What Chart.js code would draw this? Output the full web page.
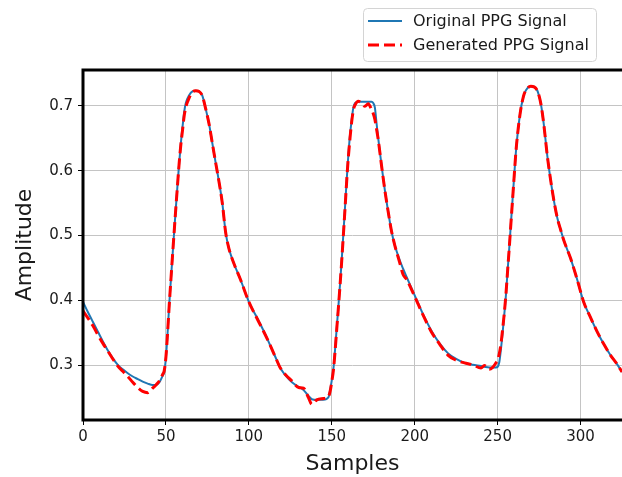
<!DOCTYPE html>
<html>
<head>
<meta charset="utf-8">
<script src="https://cdn.jsdelivr.net/npm/chart.js@4.4.1/dist/chart.umd.min.js"></script>
<style>
  html, body { margin: 0; padding: 0; background: #fff; }
  #wrap { width: 622px; height: 477px; }
</style>
</head>
<body>
<div id="wrap"><canvas id="myChart" width="622" height="477"></canvas></div>
<script>
// sample positions (x) and amplitudes
const samples = [
  0, 3, 6, 9, 12, 15, 18, 21, 24, 27, 30, 33, 36, 39, 42, 44, 46, 48,
  49, 50, 51, 52, 53, 54, 55, 56, 57, 58, 59, 60, 61, 62, 64, 66, 68, 70, 72,
  74, 76, 78, 80, 82, 84, 86, 88, 91, 95, 100, 104, 108, 112, 116, 119, 122, 126, 130, 133, 136, 138, 141, 145, 148,
  149, 150, 151, 152, 153, 154, 155, 156, 157, 158, 159, 160, 161, 162, 163, 164, 166, 168, 170, 172, 174, 175, 176,
  177, 178, 180, 182, 184, 186, 188, 191, 193, 195, 200, 205, 210, 215, 220, 225, 230, 235, 240, 242, 245, 247, 249,
  250, 251, 252, 253, 254, 255, 256, 257, 258, 259, 260, 261, 262, 263, 264, 265, 266, 268, 270, 272, 274, 275, 276, 277, 278,
  280, 282, 284, 286, 288, 290, 294, 298, 302, 306, 310, 314, 318, 322, 325
];

const originalPPG = [
  0.398, 0.382, 0.367, 0.352, 0.337, 0.323, 0.311, 0.301, 0.294, 0.288, 0.283, 0.279, 0.275, 0.272, 0.270, 0.270, 0.274, 0.284,
  0.290, 0.312, 0.350, 0.394, 0.432, 0.470, 0.507, 0.543, 0.578, 0.612, 0.642, 0.667, 0.690, 0.704, 0.716, 0.722, 0.723, 0.722, 0.715,
  0.695, 0.672, 0.642, 0.612, 0.583, 0.550, 0.505, 0.480, 0.457, 0.432, 0.398, 0.378, 0.358, 0.336, 0.313, 0.296, 0.285, 0.274, 0.267, 0.262, 0.253, 0.248, 0.247, 0.247, 0.251,
  0.262, 0.277, 0.295, 0.325, 0.358, 0.391, 0.426, 0.463, 0.503, 0.544, 0.586, 0.624, 0.655, 0.678, 0.697, 0.704, 0.706, 0.706, 0.706, 0.706, 0.706, 0.704, 0.697,
  0.673, 0.650, 0.608, 0.570, 0.537, 0.507, 0.485, 0.462, 0.449, 0.437, 0.408, 0.379, 0.354, 0.334, 0.319, 0.310, 0.304, 0.301, 0.299, 0.298, 0.297, 0.297, 0.297,
  0.298, 0.305, 0.325, 0.350, 0.378, 0.408, 0.445, 0.480, 0.518, 0.555, 0.592, 0.628, 0.655, 0.677, 0.695, 0.708, 0.718, 0.727, 0.730, 0.729, 0.723, 0.715, 0.704, 0.688, 0.668,
  0.622, 0.585, 0.553, 0.527, 0.509, 0.492, 0.465, 0.432, 0.397, 0.374, 0.352, 0.333, 0.316, 0.302, 0.290
];

const generatedPPG = [
  0.384, 0.373, 0.361, 0.347, 0.334, 0.322, 0.310, 0.299, 0.291, 0.283, 0.274, 0.266, 0.260, 0.258, 0.265, 0.270, 0.276, 0.286,
  0.292, 0.313, 0.350, 0.393, 0.432, 0.470, 0.507, 0.543, 0.578, 0.612, 0.640, 0.662, 0.684, 0.698, 0.712, 0.721, 0.723, 0.722, 0.715,
  0.695, 0.672, 0.642, 0.612, 0.583, 0.550, 0.505, 0.480, 0.457, 0.432, 0.398, 0.377, 0.357, 0.336, 0.313, 0.296, 0.286, 0.276, 0.266, 0.265, 0.250, 0.240, 0.247, 0.249, 0.252,
  0.260, 0.275, 0.293, 0.322, 0.356, 0.389, 0.424, 0.461, 0.501, 0.542, 0.584, 0.621, 0.650, 0.675, 0.693, 0.701, 0.707, 0.704, 0.699, 0.703, 0.694, 0.688, 0.679,
  0.664, 0.648, 0.608, 0.570, 0.537, 0.507, 0.485, 0.458, 0.440, 0.433, 0.406, 0.378, 0.352, 0.333, 0.316, 0.308, 0.304, 0.301, 0.296, 0.300, 0.294, 0.297, 0.304,
  0.308, 0.318, 0.333, 0.355, 0.380, 0.409, 0.445, 0.480, 0.518, 0.555, 0.592, 0.628, 0.655, 0.677, 0.695, 0.708, 0.718, 0.727, 0.730, 0.729, 0.723, 0.715, 0.704, 0.688, 0.668,
  0.622, 0.585, 0.553, 0.527, 0.509, 0.492, 0.465, 0.432, 0.397, 0.374, 0.352, 0.333, 0.316, 0.302, 0.290
];

const xTicks = [0, 50, 100, 150, 200, 250, 300];
const yTicks = [0.3, 0.4, 0.5, 0.6, 0.7];

const FONT = "'DejaVu Sans', 'Liberation Sans', sans-serif";
const textColor = '#1a1a1a';

const toPoints = (ys) => ys.map((y, i) => ({ x: samples[i], y: y }));

// black frame on top / left / bottom (right side is cut off in the reference)
const frame = {
  id: 'frame',
  afterDatasetsDraw(chart) {
    const { left, top, right, bottom } = chart.chartArea;
    const c = chart.ctx;
    c.save();
    c.strokeStyle = '#000';
    c.lineWidth = 3;
    c.beginPath();
    c.moveTo(right + 2, top);
    c.lineTo(left, top);
    c.lineTo(left, bottom);
    c.lineTo(right + 2, bottom);
    c.stroke();
    c.restore();
  }
};

// legend box above the plot, top right
const legendBox = {
  id: 'legendBox',
  afterDraw(chart) {
    const c = chart.ctx;
    c.save();
    c.fillStyle = '#fff';
    c.strokeStyle = '#d4d4d4';
    c.lineWidth = 1;
    c.beginPath();
    c.roundRect(363.5, 8.5, 233, 53, 4);
    c.fill();
    c.stroke();
    c.font = '16px ' + FONT;
    c.textBaseline = 'middle';
    c.fillStyle = textColor;
    const rows = [21, 45];
    chart.data.datasets.slice().reverse().forEach((ds, i) => {
      const y = rows[i];
      c.strokeStyle = ds.borderColor;
      c.lineWidth = ds.borderWidth;
      c.setLineDash(ds.borderDash || []);
      c.beginPath();
      c.moveTo(368, y);
      c.lineTo(402, y);
      c.stroke();
      c.setLineDash([]);
      c.fillText(ds.label, 413, y + 1);
    });
    c.restore();
  }
};

const ctx = document.getElementById('myChart').getContext('2d');

new Chart(ctx, {
  type: 'line',
  data: {
    datasets: [
      {
        label: 'Generated PPG Signal',
        data: toPoints(generatedPPG),
        borderColor: '#ff0000',
        borderWidth: 3,
        borderDash: [11, 5],
        pointRadius: 0,
        cubicInterpolationMode: 'monotone',
        order: 1
      },
      {
        label: 'Original PPG Signal',
        data: toPoints(originalPPG),
        borderColor: '#1f77b4',
        borderWidth: 2,
        pointRadius: 0,
        cubicInterpolationMode: 'monotone',
        order: 2
      }
    ]
  },
  options: {
    responsive: false,
    animation: false,
    layout: { padding: { top: 70, left: 0, right: 0, bottom: 0 } },
    plugins: {
      legend: { display: false },
      tooltip: { enabled: false }
    },
    scales: {
      x: {
        type: 'linear',
        min: 0,
        max: 325,
        afterBuildTicks: (scale) => { scale.ticks = xTicks.map(v => ({ value: v })); },
        afterFit: (scale) => { scale.height = 57; },
        grid: { color: '#c4c4c4', lineWidth: 1, tickColor: '#000', tickLength: 5 },
        border: { display: false },
        ticks: {
          color: textColor,
          font: { family: FONT, size: 15 },
          padding: 3,
          maxRotation: 0
        },
        title: {
          display: true,
          text: 'Samples',
          color: textColor,
          font: { family: FONT, size: 22 },
          padding: { top: 0, bottom: 0 }
        }
      },
      y: {
        min: 0.216,
        max: 0.755,
        afterBuildTicks: (scale) => { scale.ticks = yTicks.map(v => ({ value: v })); },
        afterFit: (scale) => { scale.width = 83; },
        grid: { color: '#c4c4c4', lineWidth: 1, tickColor: '#000', tickLength: 5 },
        border: { display: false },
        ticks: {
          color: textColor,
          font: { family: FONT, size: 15 },
          padding: 5,
          callback: (v) => v.toFixed(1)
        },
        title: {
          display: true,
          text: 'Amplitude',
          color: textColor,
          font: { family: FONT, size: 22 },
          padding: { top: 12, bottom: 0 }
        }
      }
    }
  },
  plugins: [frame, legendBox]
});
</script>
</body>
</html>
